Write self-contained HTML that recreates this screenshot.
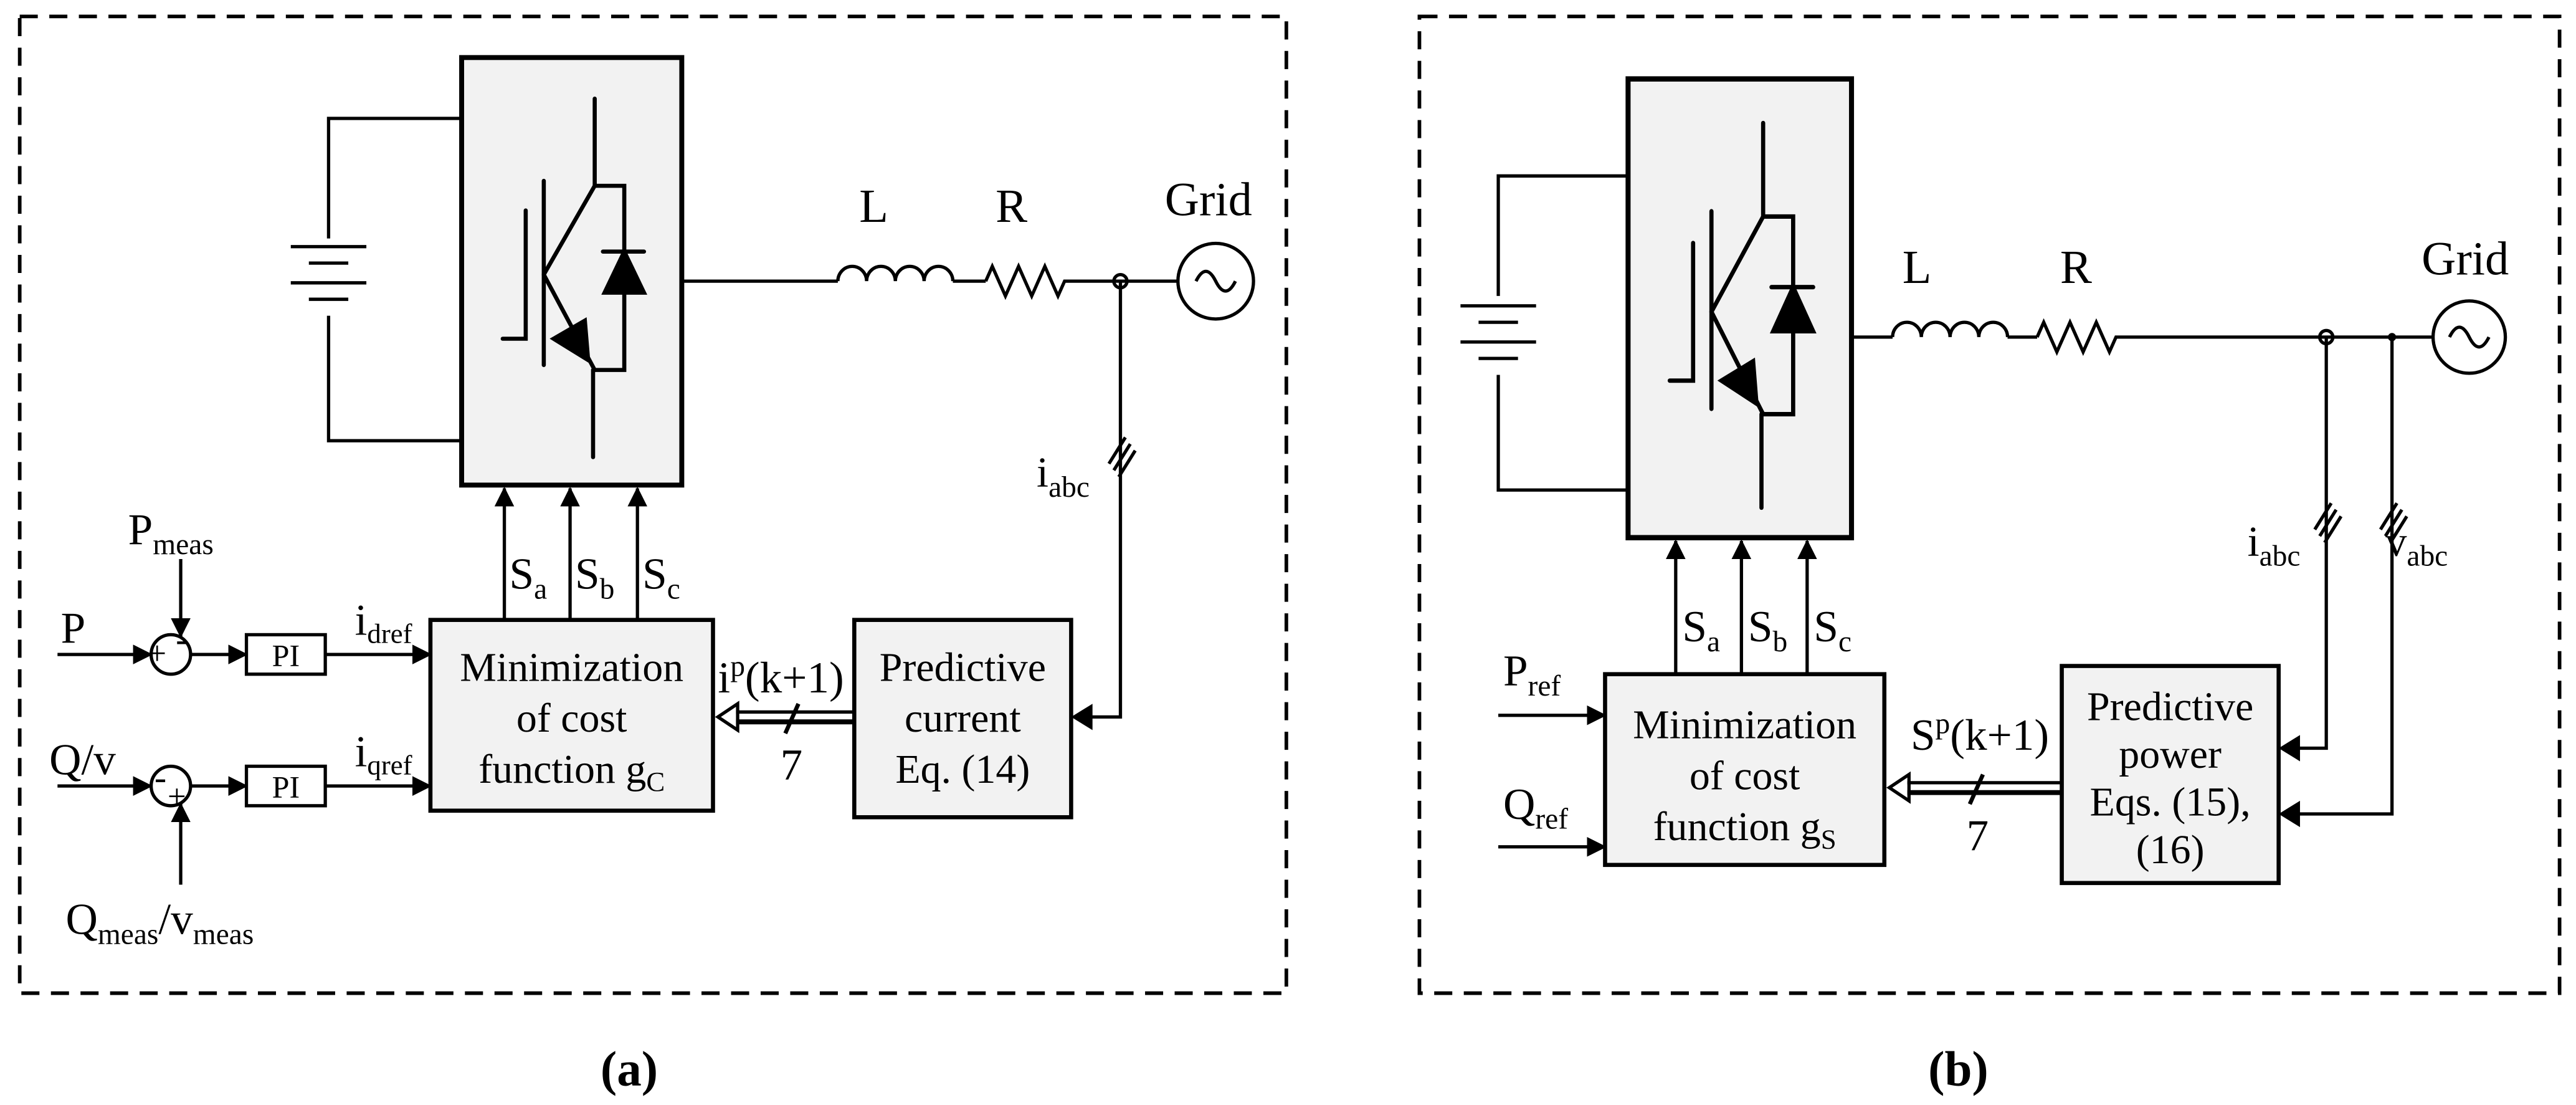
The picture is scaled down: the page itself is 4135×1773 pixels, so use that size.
<!DOCTYPE html>
<html><head><meta charset="utf-8"><style>
html,body{margin:0;padding:0;background:#fff;}
svg{display:block;}
text{font-family:"Liberation Serif",serif;fill:#000;}
</style></head><body>
<svg width="4135" height="1773" viewBox="0 0 1568 672" preserveAspectRatio="none" xmlns="http://www.w3.org/2000/svg">
<defs>
<marker id="ar" markerWidth="12" markerHeight="12" refX="11" refY="6" orient="auto" markerUnits="userSpaceOnUse">
<path d="M0,0 L12,6 L0,12 z" fill="#000"/></marker>
<g id="igbt" stroke="#000" stroke-width="2.5" fill="none" stroke-linecap="round">
<rect x="281" y="35" width="134" height="260" fill="#f2f2f2" stroke-width="3"/>
<line x1="362" y1="60" x2="362" y2="113"/>
<line x1="331" y1="110" x2="331" y2="222"/>
<polyline points="306,206 320,206 320,128"/>
<line x1="362" y1="113" x2="331" y2="167"/>
<line x1="331" y1="167" x2="362" y2="225"/>
<path d="M337,206 L356,195 L358,219 z" fill="#000"/>
<polyline points="362,113 380,113 380,225 362,225"/>
<line x1="361" y1="225" x2="361" y2="278"/>
<path d="M380,153 L392,178 L368,178 z" fill="#000"/>
<line x1="367" y1="153" x2="392" y2="153"/>
</g>
</defs>
<g fill="none" stroke="#000" stroke-width="2.2" stroke-dasharray="11,7">
<rect x="12" y="10" width="771" height="594"/>
<rect x="864" y="10" width="694" height="594"/>
</g>
<text x="383" y="660" font-size="30" font-weight="bold" text-anchor="middle">(a)</text>
<text x="1192" y="660" font-size="30" font-weight="bold" text-anchor="middle">(b)</text>

<!-- PANEL A -->
<g stroke="#000" stroke-width="2" fill="none">
<polyline points="281,72 200,72 200,145"/>
<polyline points="281,268 200,268 200,192"/>
<line x1="177" y1="150" x2="223" y2="150"/><line x1="188" y1="160" x2="212" y2="160"/>
<line x1="177" y1="172" x2="223" y2="172"/><line x1="188" y1="182" x2="212" y2="182"/>
<line x1="415" y1="171" x2="510" y2="171"/>
<path d="M510,171 a8.75,9 0 0 1 17.5,0 a8.75,9 0 0 1 17.5,0 a8.75,9 0 0 1 17.5,0 a8.75,9 0 0 1 17.5,0"/>
<line x1="580" y1="171" x2="600" y2="171"/>
<polyline points="600,171 604,162 612,180 620,162 628,180 636,162 644,180 648,171 717,171"/>
<circle cx="740" cy="171" r="23"/>
<path d="M728,171 q6,-12 12,0 q6,12 12,0"/>
<polyline points="682,171 682,436 660,436"/>
<line x1="675" y1="282" x2="685" y2="266"/><line x1="678" y1="286" x2="688" y2="270"/><line x1="681" y1="290" x2="691" y2="274"/>
</g>
<circle cx="682" cy="171" r="4" fill="none" stroke="#000" stroke-width="2"/>
<path d="M652,436 L665,428 L665,444 z" fill="#000"/>
<use href="#igbt"/>
<text x="523" y="135" font-size="29">L</text>
<text x="606" y="135" font-size="29">R</text>
<text x="709" y="131" font-size="29">Grid</text>
<text x="631" y="296" font-size="26">i<tspan font-size="18" dy="6">abc</tspan></text>

<g stroke="#000" stroke-width="2.5" fill="#f2f2f2">
<rect x="520" y="377" width="132" height="120"/>
<rect x="262" y="377" width="172" height="116"/>
<rect x="150" y="386" width="48" height="24" fill="#fff" stroke-width="2"/>
<rect x="150" y="466" width="48" height="24" fill="#fff" stroke-width="2"/>
</g>
<g font-size="25" text-anchor="middle">
<text x="586" y="414">Predictive</text><text x="586" y="445">current</text><text x="586" y="476">Eq. (14)</text>
<text x="348" y="414">Minimization</text><text x="348" y="445">of cost</text><text x="348" y="476">function g<tspan font-size="17" dy="5">C</tspan></text>
<text x="174" y="405" font-size="19">PI</text><text x="174" y="485" font-size="19">PI</text>
</g>
<g stroke="#000" stroke-width="2" fill="none">
<line x1="307" y1="377" x2="307" y2="297" marker-end="url(#ar)"/>
<line x1="347" y1="377" x2="347" y2="297" marker-end="url(#ar)"/>
<line x1="388" y1="377" x2="388" y2="297" marker-end="url(#ar)"/>
<line x1="520" y1="433" x2="448" y2="433"/><line x1="520" y1="439" x2="448" y2="439" stroke-width="3"/>
<path d="M437,436 L449,428 L449,444 z" stroke-width="2"/>
<line x1="478" y1="446" x2="486" y2="428" stroke-width="2.5"/>
<line x1="35" y1="398" x2="92" y2="398" marker-end="url(#ar)"/>
<circle cx="104" cy="398" r="12"/>
<line x1="110" y1="340" x2="110" y2="387" marker-end="url(#ar)"/>
<line x1="116" y1="398" x2="150" y2="398" marker-end="url(#ar)"/>
<line x1="198" y1="398" x2="262" y2="398" marker-end="url(#ar)"/>
<line x1="35" y1="478" x2="92" y2="478" marker-end="url(#ar)"/>
<circle cx="104" cy="478" r="12"/>
<line x1="110" y1="538" x2="110" y2="489" marker-end="url(#ar)"/>
<line x1="116" y1="478" x2="150" y2="478" marker-end="url(#ar)"/>
<line x1="198" y1="478" x2="262" y2="478" marker-end="url(#ar)"/>
</g>
<g font-size="27">
<text x="310" y="358">S<tspan font-size="18" dy="6">a</tspan></text>
<text x="350" y="358">S<tspan font-size="18" dy="6">b</tspan></text>
<text x="391" y="358">S<tspan font-size="18" dy="6">c</tspan></text>
<text x="437" y="421">i<tspan font-size="18" dy="-10">p</tspan><tspan dy="10">(k+1)</tspan></text>
<text x="475" y="474">7</text>
<text x="37" y="391">P</text>
<text x="78" y="331">P<tspan font-size="18" dy="6">meas</tspan></text>
<text x="216" y="386">i<tspan font-size="17" dy="5">dref</tspan></text>
<text x="216" y="466">i<tspan font-size="17" dy="5">qref</tspan></text>
<text x="30" y="471">Q/v</text>
<text x="40" y="568">Q<tspan font-size="18" dy="6">meas</tspan><tspan dy="-6">/v</tspan><tspan font-size="18" dy="6">meas</tspan></text>
<text x="90" y="404" font-size="20">+</text><text x="107" y="396" font-size="22">-</text>
<text x="94" y="480" font-size="22">-</text><text x="102" y="491" font-size="20">+</text>
</g>

<!-- PANEL B -->
<g stroke="#000" stroke-width="2" fill="none">
<polyline points="991,107 912,107 912,180"/>
<polyline points="991,298 912,298 912,228"/>
<line x1="889" y1="186" x2="935" y2="186"/><line x1="900" y1="196" x2="924" y2="196"/>
<line x1="889" y1="208" x2="935" y2="208"/><line x1="900" y1="218" x2="924" y2="218"/>
<line x1="1127" y1="205" x2="1152" y2="205"/>
<path d="M1152,205 a8.75,9 0 0 1 17.5,0 a8.75,9 0 0 1 17.5,0 a8.75,9 0 0 1 17.5,0 a8.75,9 0 0 1 17.5,0"/>
<line x1="1222" y1="205" x2="1240" y2="205"/>
<polyline points="1240,205 1244,196 1252,214 1260,196 1268,214 1276,196 1284,214 1288,205 1481,205"/>
<circle cx="1503" cy="205" r="22"/>
<path d="M1491,205 q6,-12 12,0 q6,12 12,0"/>
<polyline points="1416,205 1416,455 1399,455"/>
<polyline points="1456,205 1456,495 1399,495"/>
<line x1="1409" y1="322" x2="1419" y2="306"/><line x1="1412" y1="326" x2="1422" y2="310"/><line x1="1415" y1="330" x2="1425" y2="314"/>
<line x1="1449" y1="322" x2="1459" y2="306"/><line x1="1452" y1="326" x2="1462" y2="310"/><line x1="1455" y1="330" x2="1465" y2="314"/>
</g>
<circle cx="1416" cy="205" r="4" fill="none" stroke="#000" stroke-width="2"/>
<circle cx="1456" cy="205" r="2.5" fill="#000"/>
<path d="M1387,455 L1400,447 L1400,463 z" fill="#000"/>
<path d="M1387,495 L1400,487 L1400,503 z" fill="#000"/>
<g transform="translate(991,48) scale(1.015,1.073) translate(-281,-35)"><use href="#igbt"/></g>
<text x="1158" y="172" font-size="29">L</text>
<text x="1254" y="172" font-size="29">R</text>
<text x="1474" y="167" font-size="29">Grid</text>
<text x="1368" y="338" font-size="26">i<tspan font-size="18" dy="6">abc</tspan></text>
<text x="1452" y="338" font-size="26">v<tspan font-size="18" dy="6">abc</tspan></text>

<g stroke="#000" stroke-width="2.5" fill="#f2f2f2">
<rect x="1255" y="405" width="132" height="132"/>
<rect x="977" y="410" width="170" height="116"/>
</g>
<g font-size="25" text-anchor="middle">
<text x="1321" y="438">Predictive</text><text x="1321" y="467">power</text><text x="1321" y="496">Eqs. (15),</text><text x="1321" y="525">(16)</text>
<text x="1062" y="449">Minimization</text><text x="1062" y="480">of cost</text><text x="1062" y="511">function g<tspan font-size="17" dy="5">S</tspan></text>
</g>
<g stroke="#000" stroke-width="2" fill="none">
<line x1="1020" y1="410" x2="1020" y2="329" marker-end="url(#ar)"/>
<line x1="1060" y1="410" x2="1060" y2="329" marker-end="url(#ar)"/>
<line x1="1100" y1="410" x2="1100" y2="329" marker-end="url(#ar)"/>
<line x1="1255" y1="476" x2="1161" y2="476"/><line x1="1255" y1="482" x2="1161" y2="482" stroke-width="3"/>
<path d="M1150,479 L1162,471 L1162,487 z"/>
<line x1="1199" y1="489" x2="1207" y2="471" stroke-width="2.5"/>
<line x1="912" y1="435" x2="977" y2="435" marker-end="url(#ar)"/>
<line x1="912" y1="515" x2="977" y2="515" marker-end="url(#ar)"/>
</g>
<g font-size="27">
<text x="1024" y="390">S<tspan font-size="18" dy="6">a</tspan></text>
<text x="1064" y="390">S<tspan font-size="18" dy="6">b</tspan></text>
<text x="1104" y="390">S<tspan font-size="18" dy="6">c</tspan></text>
<text x="1163" y="456">S<tspan font-size="18" dy="-10">p</tspan><tspan dy="10">(k+1)</tspan></text>
<text x="1197" y="517">7</text>
<text x="915" y="417">P<tspan font-size="18" dy="6">ref</tspan></text>
<text x="915" y="498">Q<tspan font-size="18" dy="6">ref</tspan></text>
</g>
</svg>
</body></html>
